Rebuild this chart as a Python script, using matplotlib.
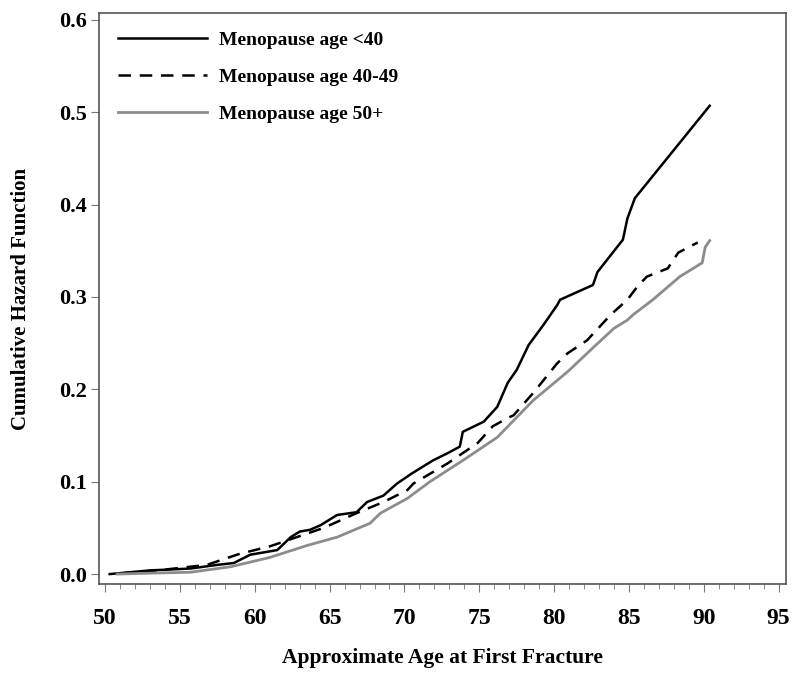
import matplotlib
matplotlib.use("Agg")
import matplotlib.pyplot as plt
from matplotlib.ticker import MultipleLocator, FormatStrFormatter

plt.rcParams['font.family'] = ['Liberation Serif', 'DejaVu Serif']
plt.rcParams['font.weight'] = 'bold'

# cumulative hazard
age_lt40 = [50.3, 53.0, 55.7, 57.5, 58.6, 59.7, 61.5, 62.4, 63.0, 63.7, 64.4, 65.5, 66.8,
            67.5, 68.6, 69.5, 70.5, 71.9, 72.9, 73.7, 73.9, 75.3, 76.2, 76.9, 77.5, 78.3,
            79.3, 80.2, 80.4, 82.6, 82.9, 84.6, 84.9, 85.4, 90.4]
haz_lt40 = [0.0, 0.004, 0.006, 0.010, 0.012, 0.021, 0.026, 0.040, 0.046, 0.048, 0.053, 0.064, 0.067,
            0.078, 0.085, 0.098, 0.109, 0.123, 0.131, 0.138, 0.154, 0.165, 0.181, 0.207, 0.221, 0.248,
            0.270, 0.291, 0.297, 0.313, 0.327, 0.362, 0.385, 0.407, 0.507]

age_4049 = [51.2, 53.5, 56.8, 59.0, 61.0, 62.8, 64.6, 66.8, 68.6, 70.2, 70.6, 72.9, 74.9,
            75.9, 76.9, 77.3, 78.6, 79.3, 80.2, 80.9, 82.2, 83.8, 84.9, 85.6, 86.2, 87.6,
            88.3, 89.6]
haz_4049 = [0.001, 0.004, 0.010, 0.022, 0.030, 0.040, 0.050, 0.066, 0.078, 0.091, 0.098, 0.120, 0.142,
            0.160, 0.169, 0.172, 0.196, 0.210, 0.228, 0.239, 0.253, 0.281, 0.297, 0.312, 0.322, 0.331,
            0.348, 0.359]

age_50p = [50.8, 53.0, 55.7, 58.4, 61.0, 63.5, 65.5, 67.7, 68.4, 70.2, 71.7, 73.9, 76.2,
           78.6, 80.9, 82.6, 84.0, 84.9, 85.3, 86.6, 88.4, 89.9, 90.1, 90.4]
haz_50p = [0.0, 0.001, 0.002, 0.008, 0.018, 0.031, 0.040, 0.055, 0.066, 0.082, 0.100, 0.123, 0.148,
           0.188, 0.219, 0.245, 0.266, 0.275, 0.281, 0.297, 0.322, 0.337, 0.354, 0.361]

labels = ['Menopause age <40', 'Menopause age 40-49', 'Menopause age 50+']

fig = plt.figure(figsize=(8, 6.76), dpi=100)
ax = fig.add_axes([0.124, 0.136, 0.8585, 0.845])

ax.plot(age_lt40, haz_lt40, color='black', lw=1.8, label=labels[0])
ax.plot(age_4049, haz_4049, color='black', lw=1.8, dashes=(5, 3.5), label=labels[1])
ax.plot(age_50p, haz_50p, color='#8c8c8c', lw=2.0, label=labels[2])

ax.set_xlim(49.6, 95.5)
ax.set_ylim(-0.0108, 0.6076)
ax.xaxis.set_major_locator(MultipleLocator(5))
ax.xaxis.set_minor_locator(MultipleLocator(1))
ax.yaxis.set_major_locator(MultipleLocator(0.1))
ax.yaxis.set_major_formatter(FormatStrFormatter('%.1f'))

for s in ax.spines.values():
    s.set_color('#555555')
    s.set_linewidth(1.2)
ax.tick_params(axis='both', which='major', length=6, color='#777777')
ax.tick_params(axis='x', labelsize=17, pad=11)
ax.tick_params(axis='y', labelsize=16, pad=3)
ax.tick_params(axis='x', which='minor', length=3.5, color='#777777')

ax.set_xlabel('Approximate Age at First Fracture', fontsize=15.5, fontweight='bold', labelpad=14)
ax.set_ylabel('Cumulative Hazard Function', fontsize=15, fontweight='bold', labelpad=20)

ax.legend(loc='upper left', frameon=False, fontsize=14, handlelength=4.6,
          handletextpad=0.6, labelspacing=1.0, borderaxespad=0.55)

fig.savefig('out.png', dpi=100)
